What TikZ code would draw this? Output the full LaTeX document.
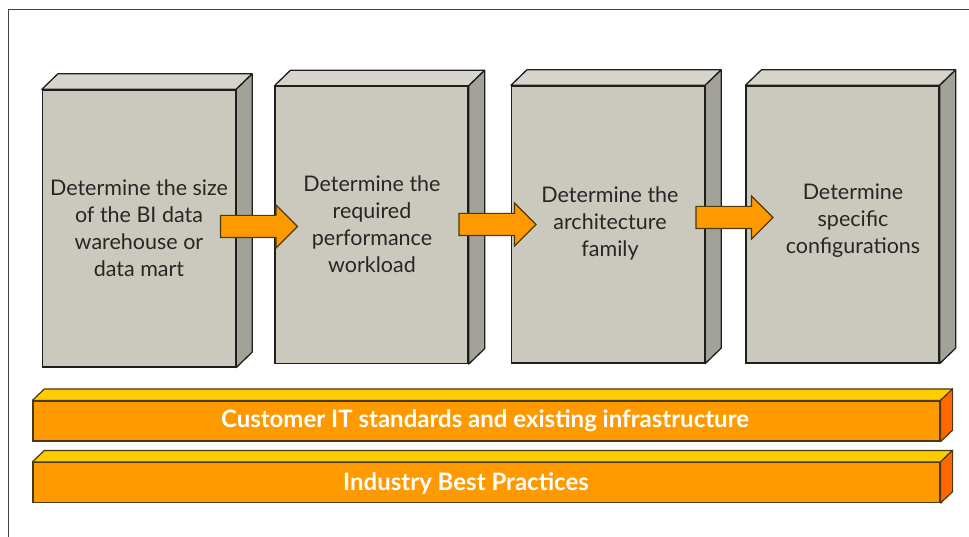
\documentclass[tikz,border=0pt]{standalone}
\usepackage{fontspec}
\setmainfont{Lato}
\usetikzlibrary{shapes.arrows}
\definecolor{boxfront}{HTML}{CBC9BE}
\definecolor{boxtop}{HTML}{D7D5CB}
\definecolor{boxside}{HTML}{A2A298}
\definecolor{boxline}{HTML}{1E1E1E}
\definecolor{barfront}{HTML}{FF9900}
\definecolor{bartop}{HTML}{FFCC00}
\definecolor{barside}{HTML}{FF6600}
\definecolor{barline}{HTML}{4A3A10}
\definecolor{frameline}{HTML}{444444}
\tikzset{
  boxface/.style={draw=boxline, line width=1.3pt, fill=boxfront, inner sep=0pt, minimum width=193pt, minimum height=277pt},
  boxtopface/.style={draw=boxline, line width=1.3pt, fill=boxtop, line join=round},
  boxsideface/.style={draw=boxline, line width=1.3pt, fill=boxside, line join=round},
  boxtext/.style={align=center, font=\fontsize{21.5}{27}\selectfont, text=black!85},
  barface/.style={draw=barline, line width=1.2pt, fill=barfront, inner sep=0pt, minimum width=907pt, minimum height=40pt},
  bartopface/.style={draw=barline, line width=1.2pt, fill=bartop, line join=round},
  barsideface/.style={draw=barline, line width=1.2pt, fill=barside, line join=round},
  bartext/.style={font=\bfseries\fontsize{24}{28}\selectfont, text=white},
  blockarrow/.style={shape=single arrow, draw=barline, line width=1.2pt, fill=barfront, inner sep=0pt,
    minimum height=77pt, single arrow head extend=10.5pt, single arrow tip angle=90, single arrow head indent=0pt},
}
\newcommand{\shaftstrut}{\vrule width 0pt height 10.5pt depth 10.5pt}
\begin{document}
\begin{tikzpicture}[x=1pt, y=-1pt]
\useasboundingbox (0,0) rectangle (969,537);
% frame
\draw[frameline, line width=1.5pt] (8.5,537) -- (8.5,9.5) -- (969,9.5);

% boxes: front faces
\node[boxface] (b1) at (139,228.5) {};
\node[boxface] (b2) at (371.5,225) {};
\node[boxface] (b3) at (608,224.5) {};
\node[boxface] (b4) at (842.5,224.5) {};

\foreach \b in {b1,b2,b3,b4} {
  \draw[boxtopface] (\b.north west) -- ++(16,-15.5) -- ([shift={(16,-15.5)}]\b.north east) -- (\b.north east) -- cycle;
  \draw[boxsideface] (\b.north east) -- ++(16,-15.5) -- ([shift={(16,-15.5)}]\b.south east) -- (\b.south east) -- cycle;
}

% box texts
\node[boxtext] (t1) at (139,228) {Determine the size\\of the BI data\\warehouse or\\data mart};
\node[boxtext] (t2) at (372,224) {Determine the\\required\\performance\\workload};
\node[boxtext] (t3) at (610,223) {Determine the\\architecture\\family};
\node[boxtext] (t4) at (853,221) {Determine\\specific\\configurations};

% block arrows between boxes
\node[blockarrow] (a1) at (253.5,226.5) {\shaftstrut};
\node[blockarrow] (a2) at (492,224.5) {\shaftstrut};
\node[blockarrow] (a3) at (729,217.5) {\shaftstrut};

% bars
\node[barface] (p1) at (486.5,421) {};
\node[barface] (p2) at (486.5,482.5) {};
\foreach \p in {p1,p2} {
  \draw[bartopface] (\p.north west) -- ++(12,-11.5) -- ([shift={(12,-11.5)}]\p.north east) -- (\p.north east) -- cycle;
  \draw[barsideface] (\p.north east) -- ++(12,-11.5) -- ([shift={(12,-11.5)}]\p.south east) -- (\p.south east) -- cycle;
}
\node[bartext] (l1) at (485,421) {Customer IT standards and existing infrastructure};
\node[bartext] (l2) at (466,484) {Industry Best Practices};
\end{tikzpicture}
\end{document}
